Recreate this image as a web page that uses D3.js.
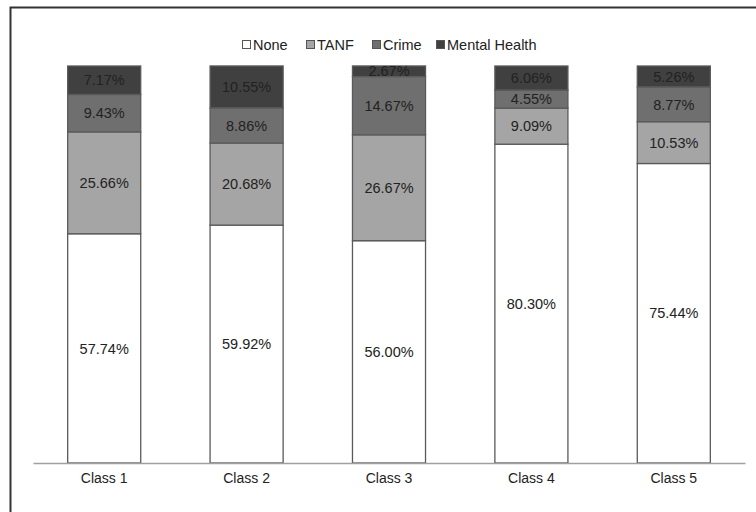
<!DOCTYPE html>
<html>
<head>
<meta charset="utf-8">
<script src="https://cdn.jsdelivr.net/npm/d3@7"></script>
<style>
  body { margin: 0; background: #fff; }
  svg { display: block; font-family: "Liberation Sans", Arial, sans-serif; }
</style>
</head>
<body>
<div id="chart"></div>
<script>
const classes = ["Class 1", "Class 2", "Class 3", "Class 4", "Class 5"];
const seriesNames = ["None", "TANF", "Crime", "Mental Health"];
const noneVals = [57.74, 59.92, 56.00, 80.30, 75.44];
const tanfVals = [25.66, 20.68, 26.67, 9.09, 10.53];
const crimeVals = [9.43, 8.86, 14.67, 4.55, 8.77];
const mentalVals = [7.17, 10.55, 2.67, 6.06, 5.26];
const colors = ["#ffffff", "#a5a5a5", "#6f6f6f", "#404040"];

const width = 756, height = 512;

const rows = classes.map((c, i) => ({
    cls: c,
    "None": noneVals[i],
    "TANF": tanfVals[i],
    "Crime": crimeVals[i],
    "Mental Health": mentalVals[i]
}));

const svg = d3.select("#chart").append("svg")
    .attr("width", width)
    .attr("height", height);

// outer frame
svg.append("rect")
    .attr("x", 10.5).attr("y", 7.5)
    .attr("width", 760).attr("height", 520)
    .attr("fill", "none")
    .attr("stroke", "#333")
    .attr("stroke-width", 2);

const x = d3.scaleBand()
    .domain(classes)
    .range([33, 745])
    .paddingInner(0.487)
    .paddingOuter(0.2435);

const y = d3.scaleLinear()
    .domain([0, 100])
    .range([463, 66]);

const color = d3.scaleOrdinal().domain(seriesNames).range(colors);

const stacked = d3.stack().keys(seriesNames)(rows);

// bars
const layers = svg.append("g").selectAll("g")
    .data(stacked)
    .enter().append("g")
    .attr("fill", d => color(d.key));

layers.selectAll("rect")
    .data(d => d)
    .enter().append("rect")
    .attr("x", d => x(d.data.cls))
    .attr("y", d => y(d[1]))
    .attr("width", x.bandwidth())
    .attr("height", d => y(d[0]) - y(d[1]))
    .attr("stroke", "#5a5a5a")
    .attr("stroke-width", 1.3);

// value labels
layers.selectAll("text")
    .data(d => d.map(v => ({ v, key: d.key })))
    .enter().append("text")
    .attr("x", d => x(d.v.data.cls) + x.bandwidth() / 2)
    .attr("y", d => (y(d.v[0]) + y(d.v[1])) / 2)
    .attr("dy", "0.36em")
    .attr("text-anchor", "middle")
    .attr("fill", "#222")
    .attr("font-size", "14.5px")
    .text(d => d.v.data[d.key].toFixed(2) + "%");

// x axis
const xAxis = svg.append("g")
    .attr("transform", "translate(0,463)")
    .call(d3.axisBottom(x).tickSize(0).tickPadding(10));
xAxis.select(".domain").attr("stroke", "#a0a0a0").attr("stroke-width", 1.5);
xAxis.selectAll("text")
    .attr("font-size", "14px")
    .attr("fill", "#222")
    .style("font-family", "\"Liberation Sans\", Arial, sans-serif");

// legend
const legendX = [242, 306, 372, 436];
const legend = svg.append("g").selectAll("g")
    .data(seriesNames)
    .enter().append("g")
    .attr("transform", (d, i) => `translate(${legendX[i]},45)`);

legend.append("rect")
    .attr("x", 0.5).attr("y", -4.5)
    .attr("width", 8).attr("height", 8)
    .attr("fill", d => color(d))
    .attr("stroke", "#555");

legend.append("text")
    .attr("x", 11)
    .attr("y", 0)
    .attr("dy", "0.36em")
    .attr("font-size", "14.5px")
    .attr("fill", "#222")
    .text(d => d);
</script>
</body>
</html>
